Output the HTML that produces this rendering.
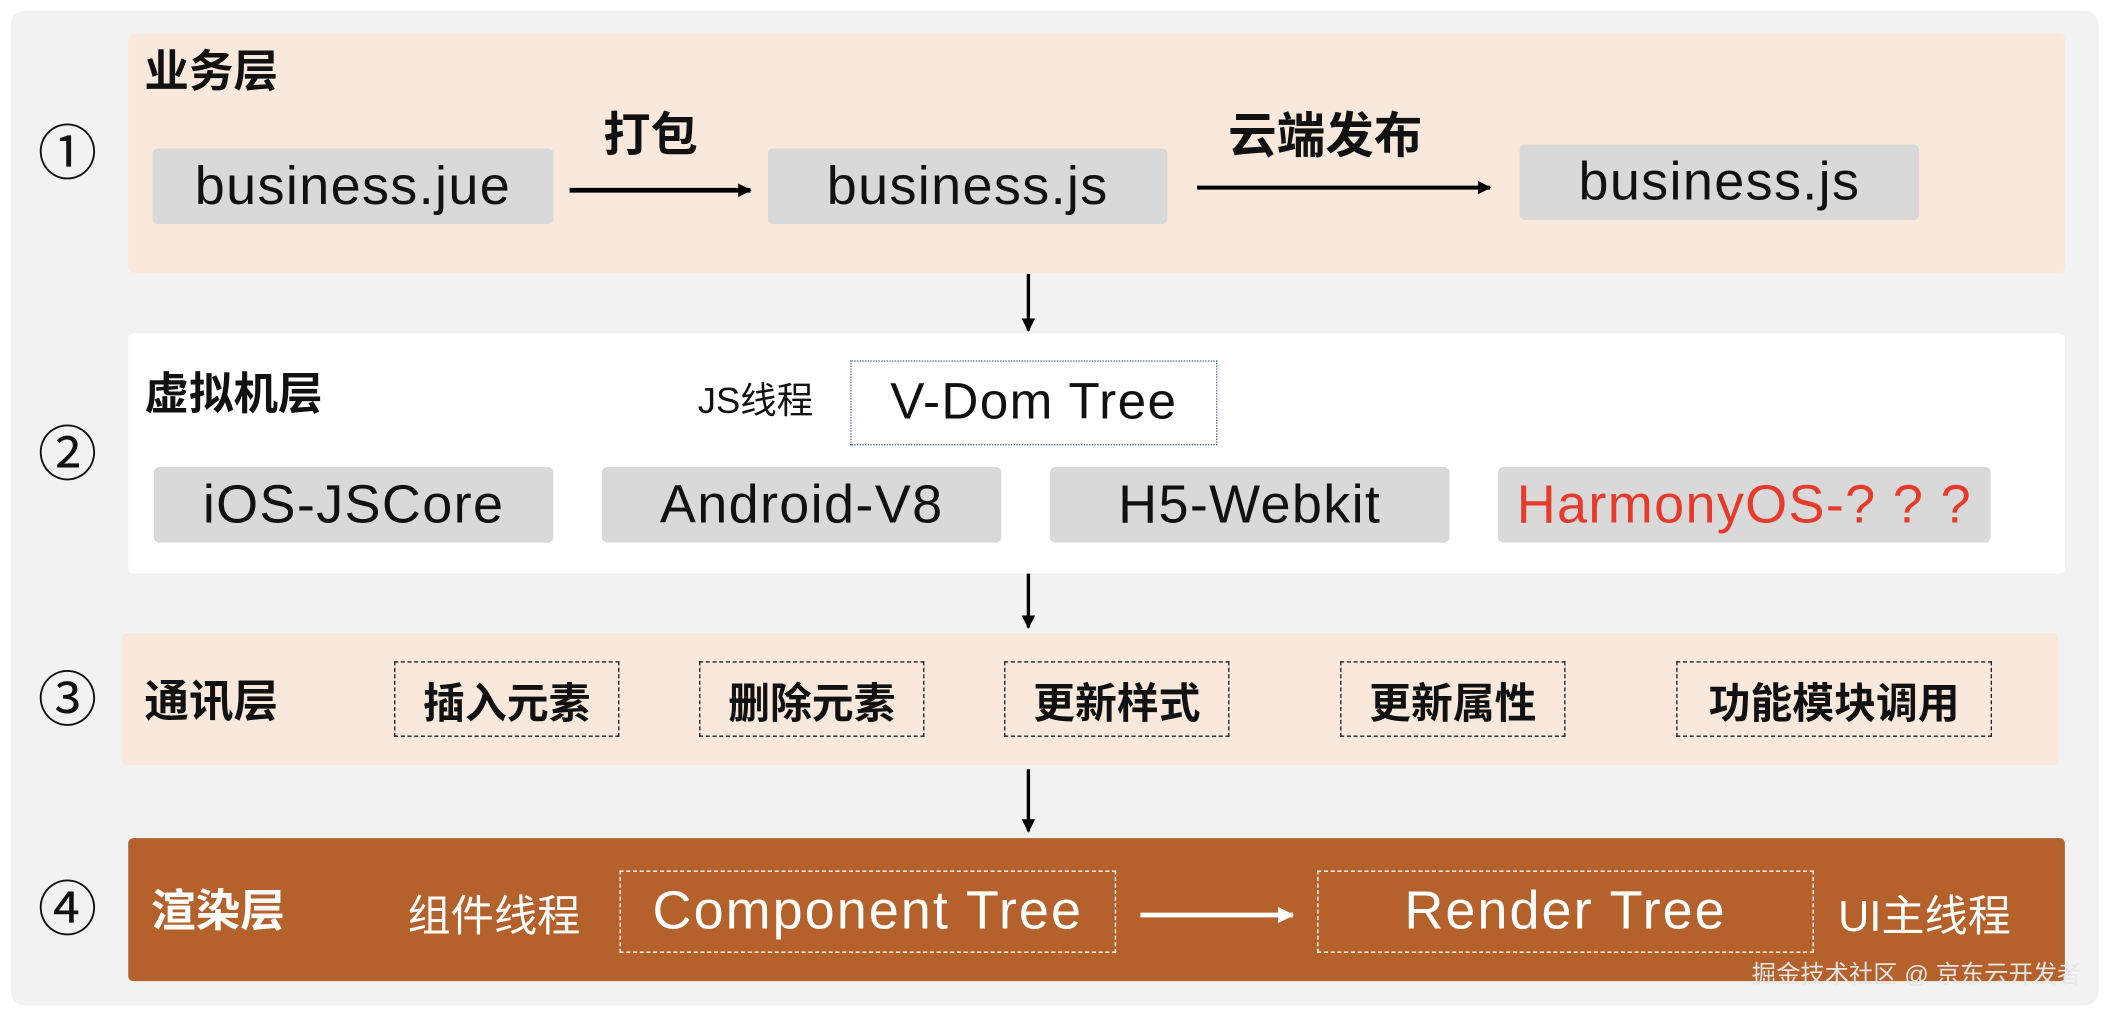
<!DOCTYPE html>
<html><head><meta charset="utf-8"><style>
html,body{margin:0;padding:0;background:#fff;width:2108px;height:1016px;overflow:hidden}
#s{position:absolute;left:0;top:0;width:1562px;height:753px;transform:scale(1.3496);transform-origin:0 0;font-family:"Liberation Sans","Noto Sans CJK SC",sans-serif}
#s div{position:absolute;box-sizing:border-box}
.bg{left:8px;top:8px;width:1547px;height:737px;background:#f2f2f2;border-radius:10px}
.layer{border-radius:4px}
.t{font-weight:bold;font-size:33px;color:#111;line-height:1;white-space:nowrap}
.num{font-size:44px;line-height:1;color:#111;white-space:nowrap}
.g{background:#d9d9d9;border-radius:4px;display:flex;align-items:center;justify-content:center;font-size:40px;letter-spacing:1px;color:#111;white-space:nowrap}
.d{border:1.5px dashed #222;display:flex;align-items:center;justify-content:center;font-size:31px;font-weight:bold;color:#111;white-space:nowrap}
.dw{border:1.5px dashed #fff;display:flex;align-items:center;justify-content:center;font-size:40px;letter-spacing:1.5px;color:#fff;white-space:nowrap}
.lab{font-size:32px;line-height:1;white-space:nowrap}
</style></head><body><div id="s">
<div class="bg"></div>
<!-- layer1 -->
<div class="layer" style="left:95px;top:25px;width:1435px;height:177px;background:#f8e9dc"></div>
<div class="t" style="left:107px;top:36px">业务层</div>
<div class="num" style="left:28px;top:93px">①</div>
<div class="g" style="left:113px;top:110px;width:297px;height:56px">business.jue</div>
<div class="g" style="left:569px;top:110px;width:296px;height:56px">business.js</div>
<div class="g" style="left:1126px;top:107px;width:296px;height:56px">business.js</div>
<div class="t" style="left:447px;top:83px;font-size:35px">打包</div>
<div class="t" style="left:910px;top:83px;font-size:36px">云端发布</div>
<svg style="position:absolute;left:0;top:0" width="1562" height="753">
<defs><marker id="a" markerWidth="10" markerHeight="10" refX="9" refY="5" orient="auto" markerUnits="userSpaceOnUse"><path d="M0,0L10,5L0,10z" fill="#000"/></marker>
<marker id="aw" markerWidth="12" markerHeight="12" refX="11" refY="6" orient="auto" markerUnits="userSpaceOnUse"><path d="M0,0L12,6L0,12z" fill="#fff"/></marker></defs>
<line x1="422" y1="141" x2="556" y2="141" stroke="#000" stroke-width="3.5" marker-end="url(#a)"/>
<line x1="887" y1="139" x2="1104" y2="139" stroke="#000" stroke-width="3" marker-end="url(#a)"/>
<line x1="762" y1="203" x2="762" y2="245" stroke="#000" stroke-width="2.5" marker-end="url(#a)"/>
<line x1="762" y1="423" x2="762" y2="465" stroke="#000" stroke-width="2.5" marker-end="url(#a)"/>
<line x1="762" y1="570" x2="762" y2="616" stroke="#000" stroke-width="2.5" marker-end="url(#a)"/>
</svg>
<!-- layer2 -->
<div class="layer" style="left:95px;top:247px;width:1435px;height:178px;background:#fff"></div>
<div class="t" style="left:107px;top:275px">虚拟机层</div>
<div class="num" style="left:28px;top:316px">②</div>
<div class="lab" style="left:517px;top:284px;font-size:27px;color:#111">JS线程</div>
<div style="left:630px;top:267px;width:272px;height:63px;border:1px dotted #4a6fa8;display:flex;align-items:center;justify-content:center;font-size:38px;letter-spacing:1px;color:#111">V-Dom Tree</div>
<div class="g" style="left:114px;top:346px;width:296px;height:56px">iOS-JSCore</div>
<div class="g" style="left:446px;top:346px;width:296px;height:56px">Android-V8</div>
<div class="g" style="left:778px;top:346px;width:296px;height:56px">H5-Webkit</div>
<div class="g" style="left:1110px;top:346px;width:365px;height:56px;color:#e63a2b">HarmonyOS-? ? ?</div>
<!-- layer3 -->
<div class="layer" style="left:90px;top:469px;width:1435px;height:98px;background:#f8e9dc"></div>
<div class="num" style="left:28px;top:498px">③</div>
<div class="t" style="left:107px;top:503px">通讯层</div>
<div class="d" style="left:292px;top:490px;width:167px;height:56px">插入元素</div>
<div class="d" style="left:518px;top:490px;width:167px;height:56px">删除元素</div>
<div class="d" style="left:744px;top:490px;width:167px;height:56px">更新样式</div>
<div class="d" style="left:993px;top:490px;width:167px;height:56px">更新属性</div>
<div class="d" style="left:1242px;top:490px;width:234px;height:56px">功能模块调用</div>
<!-- layer4 -->
<div class="layer" style="left:95px;top:621px;width:1435px;height:106px;background:#b5612c"></div>
<div class="num" style="left:28px;top:653px">④</div>
<div class="t" style="left:112px;top:658px;color:#fff">渲染层</div>
<div class="lab" style="left:302px;top:663px;color:#fff">组件线程</div>
<div class="dw" style="left:459px;top:645px;width:368px;height:61px">Component Tree</div>
<div class="dw" style="left:976px;top:645px;width:368px;height:61px">Render Tree</div>
<div class="lab" style="left:1362px;top:663px;color:#fff">UI主线程</div>
<svg style="position:absolute;left:0;top:0" width="1562" height="753"><line x1="845" y1="678" x2="958" y2="678" stroke="#fff" stroke-width="3.5" marker-end="url(#aw)"/></svg>
<div style="left:1298px;top:713px;font-size:18px;color:#e6e6e6;white-space:nowrap;line-height:1">掘金技术社区 @ 京东云开发者</div>
</div></body></html>
